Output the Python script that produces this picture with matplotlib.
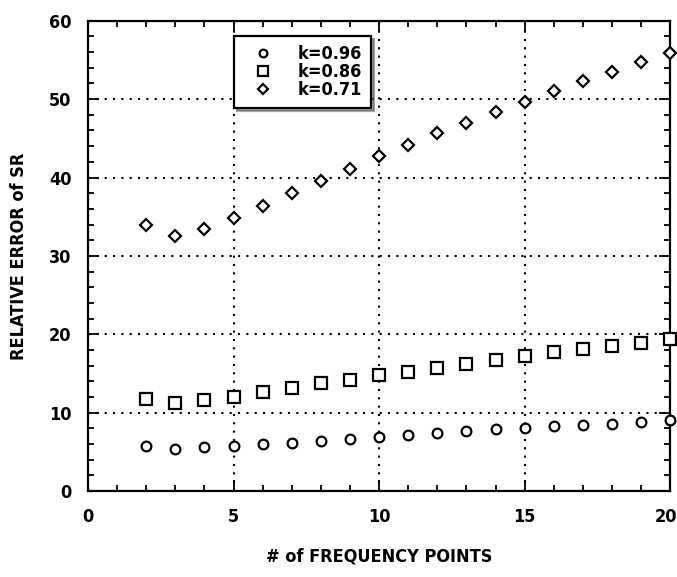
import matplotlib
matplotlib.use("Agg")
import matplotlib.pyplot as plt
from matplotlib.ticker import MultipleLocator, FuncFormatter

x = list(range(2, 21))
k096 = [5.7, 5.3, 5.6, 5.8, 6.0, 6.1, 6.4, 6.7, 6.9, 7.2, 7.4, 7.6, 7.9, 8.1, 8.3, 8.4, 8.6, 8.8, 9.1]
k086 = [11.7, 11.2, 11.6, 12.0, 12.6, 13.2, 13.8, 14.2, 14.8, 15.2, 15.7, 16.2, 16.7, 17.2, 17.7, 18.1, 18.5, 18.9, 19.4]
k071 = [34.0, 32.6, 33.4, 34.8, 36.4, 38.0, 39.5, 41.1, 42.7, 44.2, 45.7, 47.0, 48.3, 49.6, 51.0, 52.3, 53.5, 54.7, 55.9]
labels = ["k=0.96", "k=0.86", "k=0.71"]
xmax = 20

plt.rcParams['font.family'] = ['DejaVu Sans']
plt.rcParams['font.stretch'] = 'condensed'
plt.rcParams['font.weight'] = 'bold'

fig = plt.figure(figsize=(6.77, 5.77), dpi=100)
ax = fig.add_axes([0.130, 0.149, 0.860, 0.815])

ax.plot(x, k096, linestyle='none', marker='o', ms=7, mfc='white', mec='black', mew=1.6, label=labels[0], clip_on=False, zorder=3)
ax.plot(x, k086, linestyle='none', marker='s', ms=9, mfc='white', mec='black', mew=1.6, label=labels[1], clip_on=False, zorder=3)
ax.plot(x, k071, linestyle='none', marker='D', ms=6.5, mfc='white', mec='black', mew=1.6, label=labels[2], clip_on=False, zorder=3)

ax.set_xlim(0, xmax)
ax.set_ylim(0, 60)
ax.xaxis.set_major_locator(MultipleLocator(5))
ax.xaxis.set_minor_locator(MultipleLocator(1))
ax.yaxis.set_major_locator(MultipleLocator(10))
ax.yaxis.set_minor_locator(MultipleLocator(2))
ax.xaxis.set_major_formatter(FuncFormatter(lambda v, p: "" if abs(v - xmax) < 1e-9 else f"{v:g}"))
ax.tick_params(which='both', direction='in', top=True, right=True, width=1.3)
ax.tick_params(which='major', length=8, labelsize=13)
ax.tick_params(axis='x', which='major', pad=12)
ax.tick_params(axis='y', which='major', pad=12)
ax.tick_params(which='minor', length=4)
for s in ax.spines.values():
    s.set_linewidth(1.6)
ax.grid(True, which='major', linestyle=(0, (1, 3)), color='black', linewidth=1.5)

# last x tick label, nudged left so it stays inside the figure
ax.annotate(f"{xmax:g}", xy=(xmax, 0), xycoords=('data', 'axes fraction'),
            xytext=(-3, -12), textcoords='offset points', ha='center', va='top',
            fontsize=13, fontweight='bold', annotation_clip=False)

ax.set_xlabel("# of FREQUENCY POINTS", fontsize=13, fontweight='bold', labelpad=16)
ax.set_ylabel("RELATIVE ERROR of SR", fontsize=13, fontweight='bold', labelpad=15)

leg = ax.legend(loc='upper left', bbox_to_anchor=(0.251, 0.968), borderaxespad=0.0, frameon=True, shadow=True,
                fancybox=False, edgecolor='black', fontsize=13, handletextpad=0.8,
                borderpad=0.5, labelspacing=0.0, handlelength=2.2, markerscale=0.8)
leg.get_frame().set_linewidth(1.6)
leg.set_zorder(5)

fig.savefig("out.png", dpi=100)
